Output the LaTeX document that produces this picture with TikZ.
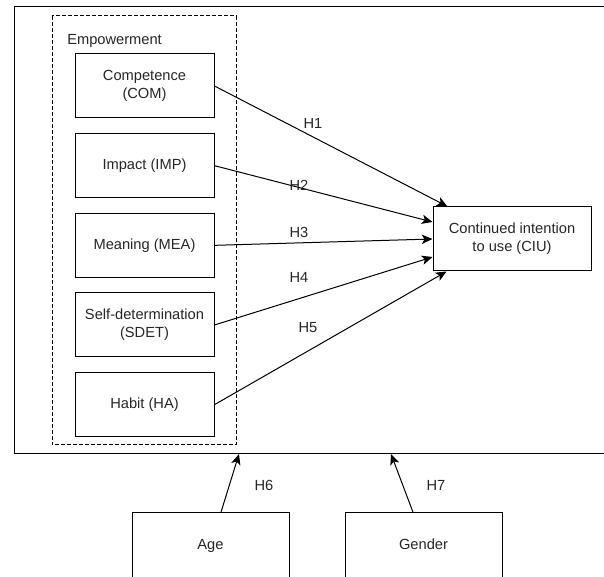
\documentclass[tikz,border=0pt]{standalone}
\usepackage{fontspec}
\setmainfont{Liberation Sans}
\usetikzlibrary{arrows.meta,positioning,calc}

\begin{document}
\begin{tikzpicture}[
  x=0.75pt, y=-0.75pt,
  node distance=11pt,
  font=\fontsize{11}{13.5}\selectfont,
  text=black!85,
  construct/.style={draw, line width=0.75pt, minimum width=104.25pt, minimum height=48pt, align=center, inner sep=2pt},
  moderator/.style={draw, line width=0.75pt, minimum width=117.75pt, minimum height=50pt, align=center},
  outcome/.style={draw, line width=0.75pt, minimum width=118.5pt, minimum height=48pt, align=center},
  path/.style={line width=0.75pt, -{Stealth[length=8pt, width=7pt, inset=2pt]}},
  hyp/.style={inner sep=1pt},
]
\useasboundingbox (0,0) rectangle (604,577);

% Outer frame (open on the right)
\draw[line width=0.75pt] (604,6.5) -- (14.5,6.5) -- (14.5,454) -- (604,454);
\coordinate (f1) at (239,454);
\coordinate (f2) at (391,454);

% Empowerment group
\draw[dash pattern=on 3pt off 1.5pt, line width=0.75pt] (52,16) rectangle (236,445);
\node[anchor=west, inner sep=0pt] (emp) at (67,41) {Empowerment};

% Empowerment dimensions
\node[construct] (com) at (144.5,86) {Competence\\(COM)};
\node[construct, below=of com] (imp) {Impact (IMP)};
\node[construct, below=of imp] (mea) {Meaning (MEA)};
\node[construct, below=of mea] (sdet) {Self-determination\\(SDET)};
\node[construct, below=of sdet] (ha) {Habit (HA)};

% Outcome
\node[outcome] (ciu) at (512,239) {Continued intention\\to use (CIU)};

% Moderators
\node[moderator] (age) at (210.5,546) {\strut Age};
\node[moderator] (gender) at (423.5,546) {\strut Gender};

% Hypothesised paths
\draw[path] (com.east) -- ($(ciu.north west)+(15,0)$);
\draw[path] (imp.east) -- ($(ciu.west)+(0,-17)$);
\draw[path] (mea.east) -- (ciu.west);
\draw[path] (sdet.east) -- ($(ciu.west)+(0,18)$);
\draw[path] (ha.east) -- ($(ciu.south west)+(14,0)$);
\draw[path] ($(age.north)+(10.5,0)$) -- (f1);
\draw[path] ($(gender.north)+(-10.5,0)$) -- (f2);

% Path labels
\node[hyp] (h1) at (313,123) {H1};
\node[hyp] (h2) at (299,185) {H2};
\node[hyp] (h3) at (299,232) {H3};
\node[hyp] (h4) at (299,277) {H4};
\node[hyp] (h5) at (308,328) {H5};
\node[hyp] (h6) at (264,485) {H6};
\node[hyp] (h7) at (436,485) {H7};

\end{tikzpicture}
\end{document}
